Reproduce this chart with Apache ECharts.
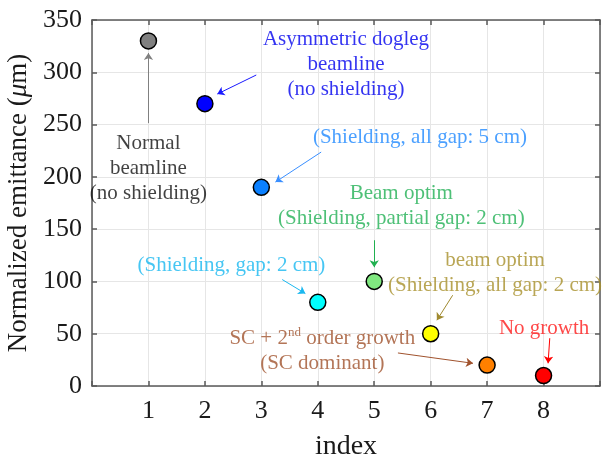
<!DOCTYPE html>
<html>
<head>
<meta charset="utf-8">
<script src="https://cdn.jsdelivr.net/npm/echarts@6/dist/echarts.min.js"></script>
<style>
html,body{margin:0;padding:0;background:#fff;}
#chart{width:602px;height:458px;}
</style>
</head>
<body>
<div id="chart"></div>
<script>
// ---- data ----
const indices = [1, 2, 3, 4, 5, 6, 7, 8];
const emittance = [330, 270, 190, 80, 100, 50, 20, 10];
const pointColors = ['#808080', '#0000ff', '#0a80ff', '#00ffff', '#80e880', '#ffff00', '#ff8000', '#ff0000'];

const xTicks = [1, 2, 3, 4, 5, 6, 7, 8];
const yTicks = [0, 50, 100, 150, 200, 250, 300, 350];

// annotation texts (data-space anchors)
const noteTexts = [
  'Normal\nbeamline\n(no shielding)',
  'Asymmetric dogleg\nbeamline\n(no shielding)',
  '(Shielding, all gap: 5 cm)',
  'Beam optim\n(Shielding, partial gap: 2 cm)',
  '(Shielding, gap: 2 cm)',
  'beam optim\n(Shielding, all gap: 2 cm)',
  'SC + 2{sup|nd} order growth\n(SC dominant)',
  'No growth'
];
const noteX = [1.0, 4.50, 5.81, 5.48, 2.47, 7.14, 4.08, 8.01];
const noteY = [208.4, 307.6, 238.1, 172.5, 115.3, 107.9, 33.7, 55.3];
const noteColors = ['#111111', '#0000ee', '#1e88ff', '#22b055', '#18b8f0', '#a8902a', '#a0522d', '#ff1a1a'];

// arrows: start -> end in data space
const arrowFrom = [[1.0, 251.4], [2.91, 297.4], [4.06, 223.7], [5.0, 139.4], [3.37, 101.8], [6.39, 86.8], [5.42, 31.6], [8.11, 45.7]];
const arrowTo   = [[1.0, 318.4], [2.22, 279.2], [3.25, 195.0], [5.0, 113.6], [3.78, 88.4], [6.11, 62.9], [6.75, 21.7], [8.08, 21.7]];
const arrowColors = ['#808080', '#1a1aff', '#3a8fff', '#20b050', '#1ab8f0', '#a08a30', '#a0522d', '#ff0000'];

// ---- chart ----
const FONT = "'Liberation Serif', 'Times New Roman', Times, serif";
const axisColor = '#5a5a5a';
const chart = echarts.init(document.getElementById('chart'), null, {renderer: 'canvas'});

const pointData = indices.map((x, i) => ({
  value: [x, emittance[i]],
  itemStyle: {color: pointColors[i]}
}));

const noteData = noteTexts.map((t, i) => ({
  value: [noteX[i], noteY[i]],
  label: {formatter: t, color: noteColors[i]}
}));

const arrowData = arrowFrom.map((s, i) => ({
  coords: [s, arrowTo[i]],
  lineStyle: {color: arrowColors[i]}
}));

const baseX = {
  type: 'value', min: 0, max: 9, interval: 1,
  axisLine: {show: true, onZero: false, lineStyle: {color: axisColor, width: 1.5}},
  axisTick: {show: true, inside: true, length: 5, lineStyle: {color: axisColor, width: 1.5}},
};
const baseY = {
  type: 'value', min: 0, max: 350, interval: 50,
  axisLine: {show: true, onZero: false, lineStyle: {color: axisColor, width: 1.5}},
  axisTick: {show: true, inside: true, length: 5, lineStyle: {color: axisColor, width: 1.5}},
};

chart.setOption({
  animation: false,
  backgroundColor: '#ffffff',
  textStyle: {fontFamily: FONT},
  grid: {left: 92, right: 2, top: 20, bottom: 72, containLabel: false, outerBoundsMode: 'none'},
  xAxis: [
    Object.assign({}, baseX, {
      position: 'bottom',
      name: 'index', nameLocation: 'middle', nameGap: 47,
      nameTextStyle: {fontFamily: FONT, fontSize: 28, color: '#1a1a1a'},
      axisLabel: {
        fontFamily: FONT, fontSize: 26, color: '#1a1a1a', margin: 12,
        formatter: v => (xTicks.indexOf(v) >= 0 ? String(v) : '')
      },
      splitLine: {show: true, lineStyle: {color: '#e6e6e6', width: 1}}
    }),
    Object.assign({}, baseX, {
      position: 'top', axisLabel: {show: false}, splitLine: {show: false}
    })
  ],
  yAxis: [
    Object.assign({}, baseY, {
      position: 'left',
      name: 'Normalized emittance ({i|μ}m)', nameLocation: 'middle', nameGap: 54,
      nameTextStyle: {
        fontFamily: FONT, fontSize: 27, color: '#1a1a1a',
        rich: {i: {fontFamily: FONT, fontSize: 27, fontStyle: 'italic', color: '#1a1a1a'}}
      },
      axisLabel: {
        fontFamily: FONT, fontSize: 26, color: '#1a1a1a', margin: 10,
        formatter: v => (yTicks.indexOf(v) >= 0 ? String(v) : '')
      },
      splitLine: {show: true, lineStyle: {color: '#e6e6e6', width: 1}}
    }),
    Object.assign({}, baseY, {
      position: 'right', axisLabel: {show: false}, splitLine: {show: false}
    })
  ],
  series: [
    {
      type: 'lines',
      coordinateSystem: 'cartesian2d',
      xAxisIndex: 0, yAxisIndex: 0,
      symbol: ['none', 'arrow'],
      symbolSize: [0, 7],
      lineStyle: {width: 1, opacity: 1},
      data: arrowData,
      z: 3,
      silent: true
    },
    {
      type: 'scatter',
      xAxisIndex: 0, yAxisIndex: 0,
      symbol: 'circle',
      symbolSize: 1,
      itemStyle: {color: 'rgba(0,0,0,0)'},
      label: {
        show: true, position: 'inside',
        fontFamily: FONT, fontSize: 21, lineHeight: 25, align: 'center',
        rich: {sup: {fontFamily: FONT, fontSize: 13, verticalAlign: 'top', padding: [0, 0, 10, 0]}}
      },
      data: noteData,
      z: 4,
      silent: true
    },
    {
      type: 'scatter',
      xAxisIndex: 0, yAxisIndex: 0,
      symbol: 'circle',
      symbolSize: 16,
      itemStyle: {borderColor: '#000000', borderWidth: 1.5, opacity: 1},
      data: pointData,
      z: 5
    }
  ]
});
</script>
</body>
</html>
